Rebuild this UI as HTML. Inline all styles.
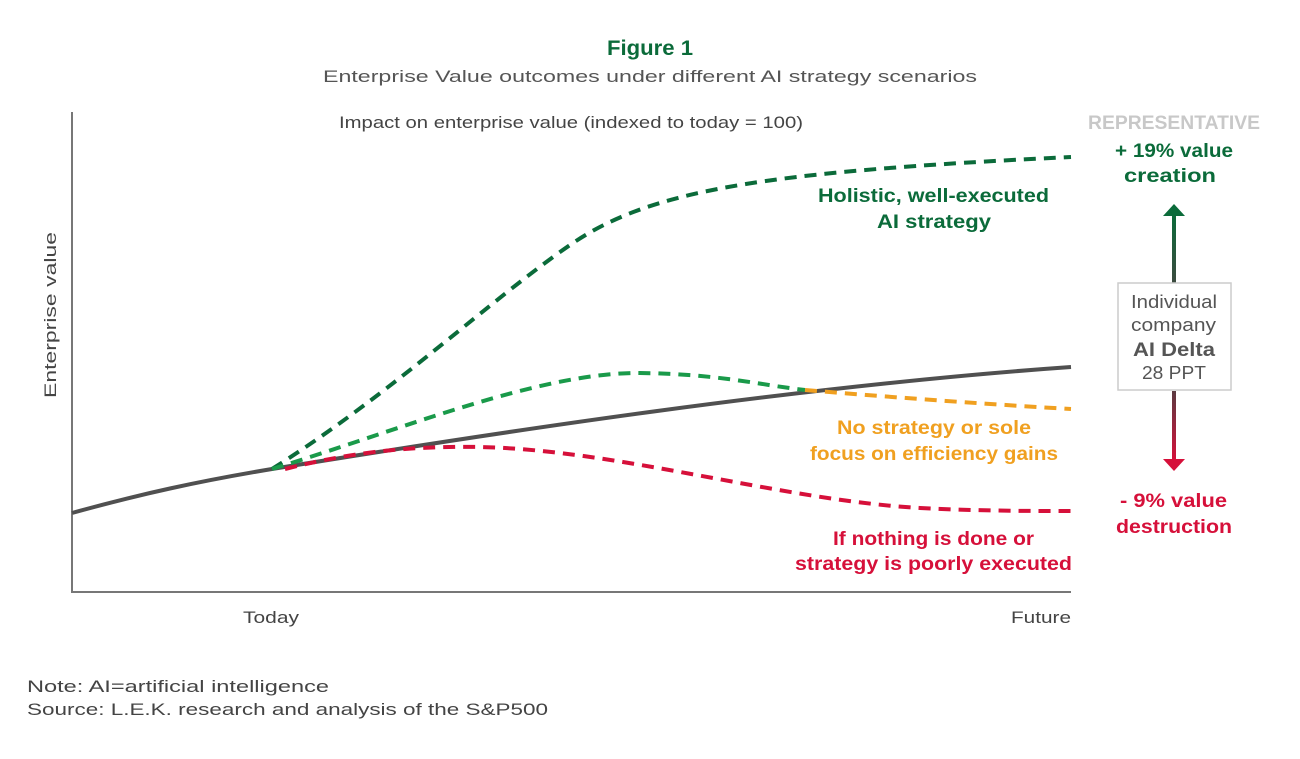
<!DOCTYPE html>
<html><head><meta charset="utf-8"><style>
body{margin:0;background:#fff;width:1300px;height:754px;overflow:hidden}
text{font-family:"Liberation Sans",sans-serif}
</style></head><body>
<svg width="1300" height="754" viewBox="0 0 1300 754" xmlns="http://www.w3.org/2000/svg">
<defs>
<linearGradient id="ga" x1="0" y1="0" x2="0" y2="1"><stop offset="0" stop-color="#0b6b3a"/><stop offset="1" stop-color="#3d4a3f"/></linearGradient>
<linearGradient id="gb" x1="0" y1="0" x2="0" y2="1"><stop offset="0" stop-color="#5a3a40"/><stop offset="1" stop-color="#d6103a"/></linearGradient>
</defs>
<text x="607" y="55" font-size="21" font-weight="bold" fill="#0b6b3a" textLength="86" lengthAdjust="spacingAndGlyphs">Figure 1</text>
<text x="323" y="82" font-size="17" fill="#555" textLength="654" lengthAdjust="spacingAndGlyphs">Enterprise Value outcomes under different AI strategy scenarios</text>
<text x="339" y="128" font-size="17" fill="#444" textLength="464" lengthAdjust="spacingAndGlyphs">Impact on enterprise value (indexed to today = 100)</text>
<text transform="translate(56,398) rotate(-90)" font-size="17" fill="#444" textLength="166" lengthAdjust="spacingAndGlyphs">Enterprise value</text>
<path d="M72,112 V592 H1071" fill="none" stroke="#777" stroke-width="2"/>
<text x="243" y="623" font-size="17" fill="#444" textLength="56" lengthAdjust="spacingAndGlyphs">Today</text>
<text x="1011" y="623" font-size="17" fill="#444" textLength="60" lengthAdjust="spacingAndGlyphs">Future</text>
<path d="M72,513 C140,494 200,481 272,469 C500,432 800,386 1071,367" fill="none" stroke="#505050" stroke-width="4"/>
<g fill="none" stroke-width="4" stroke-dasharray="12,8">
<path d="M272,469 C390,395 490,300 570,245 C650,190 760,172 1071,157" stroke="#0b6b3a"/>
<path d="M272,469 C400,430 540,372 640,373 C720,374 760,385 805,390" stroke="#1a9a4a"/>
<path d="M805,390 C900,398 1000,405 1071,409" stroke="#f0a020"/>
<path d="M285,469 C360,450 420,446 480,447 C620,450 780,500 920,508 C980,511 1030,511 1071,511" stroke="#d6103a"/>
</g>
<g font-size="19" font-weight="bold">
<text x="818" y="202" fill="#0b6b3a" textLength="231" lengthAdjust="spacingAndGlyphs">Holistic, well-executed</text>
<text x="877" y="228" fill="#0b6b3a" textLength="114" lengthAdjust="spacingAndGlyphs">AI strategy</text>
<text x="837" y="434" fill="#f0a020" textLength="194" lengthAdjust="spacingAndGlyphs">No strategy or sole</text>
<text x="810" y="460" fill="#f0a020" textLength="248" lengthAdjust="spacingAndGlyphs">focus on efficiency gains</text>
<text x="833" y="545" fill="#d6103a" textLength="201" lengthAdjust="spacingAndGlyphs">If nothing is done or</text>
<text x="795" y="570" fill="#d6103a" textLength="277" lengthAdjust="spacingAndGlyphs">strategy is poorly executed</text>
<text x="1088" y="129" fill="#c8c8c8" textLength="172" lengthAdjust="spacingAndGlyphs">REPRESENTATIVE</text>
<text x="1115" y="157" fill="#0b6b3a" textLength="118" lengthAdjust="spacingAndGlyphs">+ 19% value</text>
<text x="1124" y="182" fill="#0b6b3a" textLength="92" lengthAdjust="spacingAndGlyphs">creation</text>
<text x="1120" y="507" fill="#d6103a" textLength="107" lengthAdjust="spacingAndGlyphs">- 9% value</text>
<text x="1116" y="533" fill="#d6103a" textLength="116" lengthAdjust="spacingAndGlyphs">destruction</text>
</g>
<rect x="1172" y="214" width="4" height="70" fill="url(#ga)"/>
<polygon points="1163,216 1174,204 1185,216" fill="#0b6b3a"/>
<rect x="1172" y="391" width="4" height="70" fill="url(#gb)"/>
<polygon points="1163,459 1174,471 1185,459" fill="#d6103a"/>
<rect x="1118" y="283" width="113" height="107" fill="#fff" stroke="#ccc" stroke-width="1.5"/>
<g fill="#555" font-size="18">
<text x="1131" y="308" textLength="86" lengthAdjust="spacingAndGlyphs">Individual</text>
<text x="1131" y="331" textLength="85" lengthAdjust="spacingAndGlyphs">company</text>
<text x="1133" y="356" font-weight="bold" font-size="19" textLength="82" lengthAdjust="spacingAndGlyphs">AI Delta</text>
<text x="1142" y="379" textLength="64" lengthAdjust="spacingAndGlyphs">28 PPT</text>
</g>
<text x="27" y="692" font-size="17" fill="#444" textLength="302" lengthAdjust="spacingAndGlyphs">Note: AI=artificial intelligence</text>
<text x="27" y="715" font-size="17" fill="#444" textLength="521" lengthAdjust="spacingAndGlyphs">Source: L.E.K. research and analysis of the S&amp;P500</text>
</svg>
</body></html>
